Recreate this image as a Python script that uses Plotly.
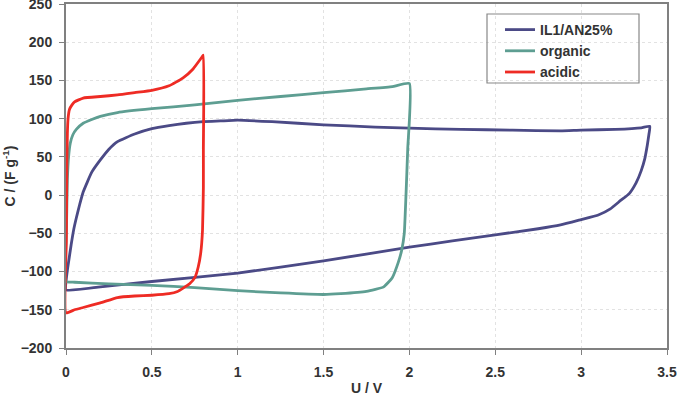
import plotly.graph_objects as go

# IL1/AN25% (dark blue) loop
il_u = [0, 0.003, 0.01, 0.02, 0.03, 0.045, 0.06, 0.08, 0.1, 0.15, 0.2, 0.25, 0.3, 0.4, 0.5, 0.6, 0.7, 0.8, 0.9, 1.0,
        1.2, 1.5, 1.8, 2.0, 2.3, 2.6, 2.88, 3.0, 3.2, 3.35, 3.4,
        3.395, 3.385, 3.37, 3.35, 3.32, 3.28, 3.23, 3.17, 3.1, 3.0, 2.88, 2.75, 2.5, 2.25, 2.0, 1.5, 1.0, 0.5, 0.2, 0]
il_c = [-124, -107, -95, -80, -65, -45, -30, -12, 4, 30, 46, 60, 70, 80, 87, 91, 94, 96, 97, 98,
        96, 92, 89, 87.5, 86, 85, 84, 85, 86, 88, 90,
        80, 65, 47, 32, 16, 2, -7, -18, -26, -32, -39, -44, -52, -60, -68, -86, -102, -113, -120, -124]

# organic (teal) loop
org_u = [0, 0.003, 0.008, 0.015, 0.025, 0.04, 0.06, 0.1, 0.15, 0.2, 0.3, 0.5, 0.75, 1.0, 1.25, 1.5, 1.75, 1.9, 2.0,
         1.99, 1.98, 1.97, 1.955, 1.935, 1.9, 1.85, 1.75, 1.6, 1.5, 1.25, 1.0, 0.75, 0.5, 0.25, 0.05, 0]
org_c = [-113, -40, 20, 50, 68, 79, 86, 94, 99, 103, 108, 113, 118, 124, 129, 134, 139, 142, 146,
         60, 0, -50, -72, -88, -108, -120, -126, -129, -130, -128, -125, -121, -118, -116, -114, -113]

# acidic (red) loop
acid_u = [0, 0.002, 0.005, 0.008, 0.012, 0.02, 0.035, 0.05, 0.1, 0.2, 0.3, 0.4, 0.5, 0.6, 0.68, 0.74, 0.79, 0.8,
          0.8, 0.8, 0.795, 0.785, 0.77, 0.75, 0.72, 0.68, 0.65, 0.6, 0.5, 0.4, 0.3, 0.2, 0.1, 0.05, 0]
acid_c = [-154, -60, 40, 80, 100, 112, 118, 122, 127, 129, 131, 134, 137, 143, 153, 165, 180, 183,
          60, 10, -46, -75, -94, -108, -116, -122, -126, -129, -131, -132, -134, -141, -147, -150, -154]

series = [
    ("IL1/AN25%", il_u, il_c, "#4b4a86"),
    ("organic", org_u, org_c, "#5e9e92"),
    ("acidic", acid_u, acid_c, "#ee2b24"),
]

x_ticks = [0, 0.5, 1, 1.5, 2, 2.5, 3, 3.5]
x_tick_text = ["0", "0.5", "1", "1.5", "2", "2.5", "3", "3.5"]
y_ticks = [-200, -150, -100, -50, 0, 50, 100, 150, 200, 250]

fig = go.Figure()
for name, u, c, col in series:
    fig.add_trace(go.Scatter(x=u, y=c, mode="lines", name=name,
                             line=dict(color=col, width=2.8, shape="spline", smoothing=0.4)))

FONT = "Liberation Sans, Arial"
tickfont = dict(family=FONT, size=14, color="#333333", weight="bold")
axis_common = dict(showline=True, linecolor="#808080", linewidth=2, mirror=True,
                   ticks="outside", ticklen=5, tickcolor="#808080", tickwidth=1,
                   showgrid=True, gridcolor="#e2e2e2", griddash="dot", gridwidth=1,
                   zeroline=False, tickfont=tickfont, ticklabeloverflow="allow")

fig.update_layout(
    width=682, height=396,
    margin=dict(l=66, r=15, t=4, b=48),
    paper_bgcolor="white", plot_bgcolor="white",
    xaxis=dict(range=[0, 3.5], tickvals=x_ticks, ticktext=x_tick_text, ticklabelstandoff=5,
               title=dict(text="U / V", standoff=16,
                          font=dict(family=FONT, size=14, color="#333333", weight="bold")),
               automargin=False, **axis_common),
    yaxis=dict(range=[-200, 250], tickvals=y_ticks, ticklabelstandoff=4,
               title=dict(text="C / (F g<sup>-1</sup>)", standoff=13,
                          font=dict(family=FONT, size=14, color="#333333", weight="bold")),
               automargin=False, **axis_common),
    legend=dict(x=(500 - 66) / 601, y=(348 - 14) / 344, xanchor="left", yanchor="top",
                bgcolor="rgba(0,0,0,0)", borderwidth=0,
                font=dict(family=FONT, size=14, color="#333333", weight="bold"),
                tracegroupgap=0, itemwidth=30),
    shapes=[dict(type="rect", xref="paper", yref="paper",
                 x0=(487 - 66) / 601, x1=(639 - 66) / 601,
                 y0=(348 - 83) / 344, y1=(348 - 14) / 344,
                 line=dict(color="#888888", width=1.2), fillcolor="rgba(0,0,0,0)", layer="above")],
    showlegend=True,
)

fig.write_html("out.html")
